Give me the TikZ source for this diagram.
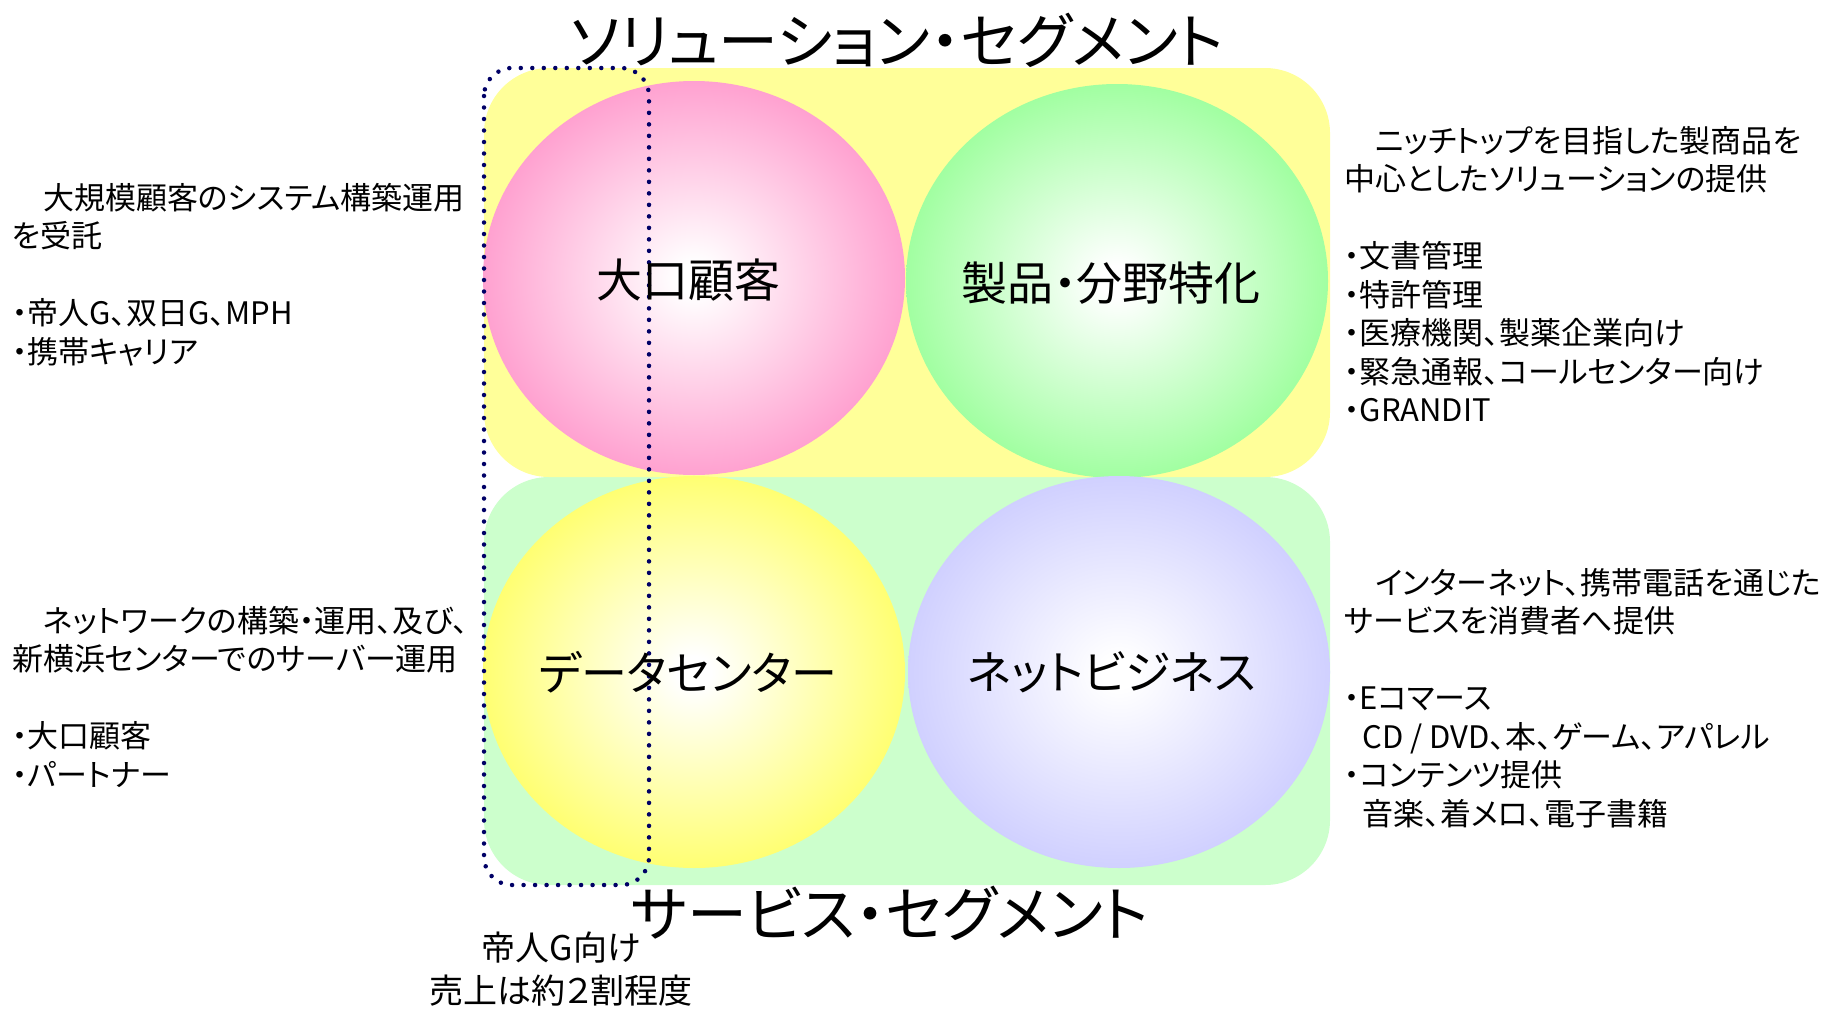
\documentclass[tikz,border=0pt]{standalone}
\usepackage{fontspec}
\setmainfont{Noto Sans CJK JP}[RawFeature=+palt]
\usetikzlibrary{positioning}

\definecolor{solband}{HTML}{FFFF99}
\definecolor{servband}{HTML}{CCFFCC}
\definecolor{orbpink}{HTML}{FF99CC}
\definecolor{orbgreen}{HTML}{99FF99}
\definecolor{orbyellow}{HTML}{FFFF66}
\definecolor{orblilac}{HTML}{CCCCFF}
\definecolor{dotnavy}{HTML}{000066}
\colorlet{orbcolor}{white}

\pgfdeclareradialshading[orbcolor]{orb}{\pgfpoint{0bp}{0bp}}{color(0bp)=(white); color(2bp)=(white); color(27bp)=(orbcolor); color(50bp)=(orbcolor)}

\tikzset{
  orb/.style={/utils/exec={\colorlet{orbcolor}{#1}}, shading=orb},
  orblabel/.style={inner sep=0pt, font=\fontsize{46}{50}\selectfont},
  segtitle/.style={inner sep=0pt, font=\fontsize{60}{64}\selectfont},
  note/.style={anchor=north west, align=left, inner sep=0pt, font=\fontsize{31}{38.5}\selectfont}
}

\begin{document}
\begin{tikzpicture}[x=1pt, y=-1pt]

\useasboundingbox (0,0) rectangle (1827,1009);

% Draw the two segment bands
\fill[servband, rounded corners=65pt] (484,477) rectangle (1330,885);
\fill[solband, rounded corners=65pt] (484,68) rectangle (1330,477);

% Draw the four business spheres
\shade[orb=orbpink] (694,278) ellipse [x radius=211, y radius=197];
\shade[orb=orbgreen] (1117,281) ellipse [x radius=211, y radius=197];
\shade[orb=orbyellow] (694,672) ellipse [x radius=211, y radius=196];
\shade[orb=orblilac] (1119,672) ellipse [x radius=211, y radius=196];

% Draw the dotted frame round the left column
\draw[dotnavy, line width=4.5pt, line cap=round, dash pattern=on 0pt off 11.5pt, rounded corners=28pt] (484,68) rectangle (649,885);

% Add the sphere labels
\node[orblabel] (ooguchi) at (688,280) {大口顧客};
\node[orblabel] (tokka) at (1111,283) {製品・分野特化};
\node[orblabel] (dc) at (688,672) {データセンター};
\node[orblabel] (netbiz) at (1112,672) {ネットビジネス};

% Add the segment titles
\node[segtitle] (soltitle) at (897,40) {ソリューション・セグメント};
\node[segtitle] (servtitle) at (890,913) {サービス・セグメント};

% Add the side notes
\node[note] (ooguchinote) at (12,183) {　大規模顧客のシステム構築運用\\を受託\\[38.5pt]・帝人G、双日G、MPH\\・携帯キャリア};
\node[note] (dcnote) at (12,606) {　ネットワークの構築・運用、及び、\\新横浜センターでのサーバー運用\\[38.5pt]・大口顧客\\・パートナー};
\node[note] (tokkanote) at (1344,126) {　ニッチトップを目指した製商品を\\中心としたソリューションの提供\\[38.5pt]・文書管理\\・特許管理\\・医療機関、製薬企業向け\\・緊急通報、コールセンター向け\\・GRANDIT};
\node[note] (netbiznote) at (1344,568) {　インターネット、携帯電話を通じた\\サービスを消費者へ提供\\[38.5pt]・Eコマース\\\hspace*{0.6em}CD / DVD、本、ゲーム、アパレル\\・コンテンツ提供\\\hspace*{0.6em}音楽、着メロ、電子書籍};

% Add the note under the frame
\node[anchor=north, align=center, inner sep=0pt, font=\fontsize{34}{43}\selectfont] (teijinnote) at (561,932) {帝人G向け\\売上は約２割程度};

\end{tikzpicture}
\end{document}
